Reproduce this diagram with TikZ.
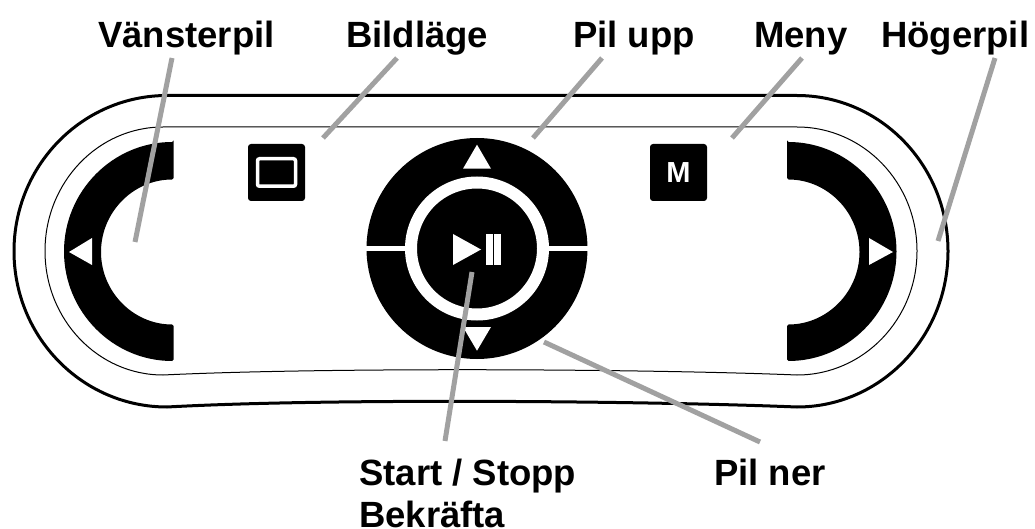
\documentclass[tikz,border=0pt]{standalone}
\usepackage{fontspec}
\setmainfont{Liberation Sans}
\usepackage{tikz}
\usetikzlibrary{calc}
\tikzset{callout text/.style={font=\bfseries\fontsize{36.5}{42}\selectfont,inner sep=0pt,anchor=base west,align=left},}
\tikzset{leader/.style={draw=black!37,line width=5pt},}
\tikzset{key square/.style={fill=black,rounded corners=3pt,minimum size=57pt,inner sep=0pt},}
\tikzset{arrow mark/.style={fill=white},}

\begin{document}
\begin{tikzpicture}[x=1pt, y=1pt]
		\useasboundingbox (0,0) rectangle (1035,-529);

		\draw[line width=3pt] (167,-95.5) -- (797,-95.5)
		    arc[start angle=90, end angle=-90, x radius=151pt, y radius=155.75pt]
		    .. controls (650,-401) and (330,-398) .. (167,-407)
		    arc[start angle=270, end angle=90, x radius=153pt, y radius=155.75pt];
		\draw[line width=1pt] (163,-127) -- (797,-127)
		    arc[start angle=90, end angle=-90, x radius=120pt, y radius=124pt]
		    .. controls (650,-369) and (330,-367) .. (163,-375)
		    arc[start angle=270, end angle=90, x radius=118pt, y radius=124pt];

		\fill[rounded corners=1.5pt] (173.5,-142) -- (173.5,-179.5)
		    arc[start angle=90, end angle=270, radius=72.5pt] -- (173.5,-361)
		    arc[start angle=270, end angle=90, radius=109.5pt] -- cycle;
		\fill[rounded corners=1.5pt] (787,-142) -- (787,-179.5)
		    arc[start angle=90, end angle=-90, radius=72.5pt] -- (787,-361)
		    arc[start angle=-90, end angle=90, radius=109.5pt] -- cycle;
		\fill[arrow mark] (69,-252) -- (92,-238) -- (92,-265) -- cycle;
		\fill[arrow mark] (893,-252) -- (869,-238) -- (869,-265) -- cycle;

		\node[key square] (bildknapp) at (276.5,-172.5) {};
		\node[draw=white, line width=3.5pt, rounded corners=2pt, minimum width=38pt, minimum height=27.5pt, inner sep=0pt] (bildram) at (bildknapp) {};
		\node[key square, text=white, font=\bfseries\fontsize{29}{30}\selectfont] (menyknapp) at (678.5,-172.5) {M};

		\node[circle, fill=black, minimum size=221pt, inner sep=0pt] (pad) at (477,-248.5) {};
		\node[circle, fill=black, draw=white, line width=12pt, minimum size=132pt, inner sep=0pt] (mitt) at (pad) {};
		\draw[white, line width=5pt] (pad.west) -- (mitt.west) (mitt.east) -- (pad.east);
		\fill[arrow mark] (477,-144.7) -- (491,-168.7) -- (463,-168.7) -- cycle;
		\fill[arrow mark] (477,-350.7) -- (491,-327) -- (463,-327) -- cycle;
		\fill[arrow mark] (453,-234) -- (481,-249.5) -- (453,-265) -- cycle;
		\fill[arrow mark] (486,-234) rectangle (492.7,-265);
		\fill[arrow mark] (494.3,-234) rectangle (501,-265);

		\node[callout text] (vansterpil) at (98,-48) {Vänsterpil};
		\node[callout text] (bildlage) at (346,-48) {Bildläge};
		\node[callout text] (pilupp) at (573,-48) {Pil upp};
		\node[callout text] (meny) at (754,-48) {Meny};
		\node[callout text] (hogerpil) at (881,-48) {Högerpil};
		\node[callout text] (start) at (359,-527) {Start / Stopp\\Bekräfta};
		\node[callout text] (pilner) at (714,-485) {Pil ner};

		\coordinate (vansterpil end) at (135,-242);
		\coordinate (bildlage end) at (323,-138);
		\coordinate (pilupp end) at (533,-138);
		\coordinate (meny end) at (732,-138);
		\coordinate (hogerpil end) at (938,-241);
		\coordinate (start end) at (472,-272);
		\coordinate (pilner end) at (544,-342);

		\path[leader]
		($(vansterpil.base west)+(74,-10)$) -- (vansterpil end)
		($(bildlage.base west)+(51,-10)$) -- (bildlage end)
		($(pilupp.base west)+(29,-10)$) -- (pilupp end)
		($(meny.base west)+(48,-10)$) -- (meny end)
		($(hogerpil.base west)+(114,-10)$) -- (hogerpil end)
		($(start.base west)+(86,86)$) -- (start end)
		($(pilner.base west)+(46,43)$) -- (pilner end);
\end{tikzpicture}
\end{document}
